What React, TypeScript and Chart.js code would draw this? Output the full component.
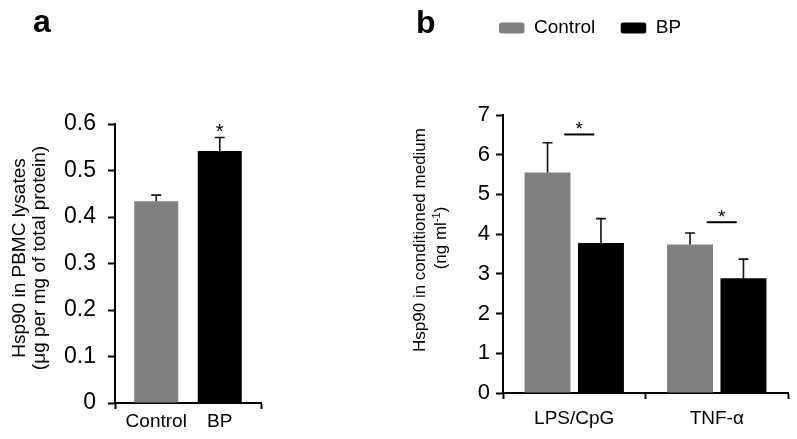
import React, { useEffect, useRef } from 'react';
import { Chart, registerables } from 'chart.js';

Chart.register(...registerables);

const FONT = '"Liberation Sans", Arial, Helvetica, sans-serif';

// ---- shared series ----
const seriesNames = ['Control', 'BP'];
const seriesColors = ['#808080', '#000000'];

// ---- panel a ----
const aCategory = [''];
const aControl = [0.434];
const aControlErr = [0.013];
const aBP = [0.542];
const aBPErr = [0.029];
const aTickValues = [0, 0.1, 0.2, 0.3, 0.4, 0.5, 0.6];
const aYTitle = ['Hsp90 in PBMC lysates', '(μg per mg of total protein)'];
const aStarLevel = 0.591;

// ---- panel b ----
const bCategories = ['LPS/CpG', 'TNF-α'];
const bControl = [5.55, 3.74];
const bControlErr = [0.75, 0.29];
const bBP = [3.78, 2.89];
const bBPErr = [0.61, 0.48];
const bTickValues = [0, 1, 2, 3, 4, 5, 6, 7];
const bYTitle = ['Hsp90 in conditioned medium', '(ng ml', '-1', ')'];
const bSigLevels = [6.51, 4.3];

function errorBarPlugin(errors: number[][]) {
  return {
    id: 'errorBars',
    afterDatasetsDraw(chart: any) {
      const ctx = chart.ctx;
      const ys = chart.scales.y;
      chart.data.datasets.forEach((ds: any, di: number) => {
        const meta = chart.getDatasetMeta(di);
        meta.data.forEach((bar: any, i: number) => {
          const v = ds.data[i];
          const e = errors[di][i];
          if (v == null || e == null) return;
          const x = bar.x;
          const y0 = ys.getPixelForValue(v);
          const y1 = ys.getPixelForValue(v + e);
          ctx.save();
          ctx.strokeStyle = '#111';
          ctx.lineWidth = 1.6;
          ctx.beginPath();
          ctx.moveTo(x, y0);
          ctx.lineTo(x, y1);
          ctx.moveTo(x - 5, y1);
          ctx.lineTo(x + 5, y1);
          ctx.stroke();
          ctx.restore();
        });
      });
    },
  };
}

function drawStar(ctx: CanvasRenderingContext2D, x: number, cy: number, size: number) {
  ctx.save();
  ctx.font = `${size}px ${FONT}`;
  ctx.fillStyle = '#000';
  ctx.textAlign = 'center';
  ctx.textBaseline = 'alphabetic';
  const m = ctx.measureText('*');
  const asc = m.actualBoundingBoxAscent;
  const desc = m.actualBoundingBoxDescent;
  ctx.fillText('*', x, cy + (asc - desc) / 2);
  ctx.restore();
}

function drawRotatedLine(ctx: CanvasRenderingContext2D, text: string, baseX: number, cy: number, size: number) {
  ctx.save();
  ctx.translate(baseX, cy);
  ctx.rotate(-Math.PI / 2);
  ctx.font = `${size}px ${FONT}`;
  ctx.fillStyle = '#000';
  ctx.textAlign = 'center';
  ctx.textBaseline = 'alphabetic';
  ctx.fillText(text, 0, 0);
  ctx.restore();
}

function baseOptions(yMin: number, yMax: number, ticksList: number[], tickFont: number, tickPad: number, yWidth: number, xHeight: number, padding: any, catPct: number, barPct: number, showXTicks: boolean) {
  return {
    responsive: false,
    animation: false,
    devicePixelRatio: 1,
    layout: { padding },
    datasets: { bar: { categoryPercentage: catPct, barPercentage: barPct } },
    plugins: { legend: { display: false }, tooltip: { enabled: false } },
    scales: {
      x: {
        type: 'category',
        offset: true,
        grid: {
          display: true,
          offset: true,
          drawOnChartArea: false,
          drawTicks: true,
          tickLength: 6,
          tickWidth: 2,
          tickColor: '#000',
        },
        border: { display: true, color: '#000', width: 2 },
        ticks: {
          display: showXTicks,
          color: '#000',
          font: { family: FONT, size: 19 },
          padding: 8,
          maxRotation: 0,
        },
        afterFit: (s: any) => {
          s.height = xHeight;
        },
      },
      y: {
        type: 'linear',
        min: yMin,
        max: yMax,
        afterBuildTicks: (s: any) => {
          s.ticks = ticksList.map((v) => ({ value: v }));
        },
        grid: {
          display: true,
          drawOnChartArea: false,
          drawTicks: true,
          tickLength: 7,
          tickWidth: 2,
          tickColor: '#000',
        },
        border: { display: true, color: '#000', width: 2 },
        ticks: {
          color: '#000',
          font: { family: FONT, size: tickFont },
          padding: tickPad,
          callback: (v: any) => String(Number(Number(v).toFixed(1))),
        },
        afterFit: (s: any) => {
          s.width = yWidth;
        },
      },
    },
  };
}

export default function App() {
  const refA = useRef<HTMLCanvasElement>(null);
  const refB = useRef<HTMLCanvasElement>(null);

  useEffect(() => {
    const annotA = {
      id: 'annotA',
      afterDraw(chart: any) {
        const ctx = chart.ctx;
        const ys = chart.scales.y;
        // panel letter
        ctx.save();
        ctx.font = `bold 32px ${FONT}`;
        ctx.fillStyle = '#000';
        ctx.textBaseline = 'alphabetic';
        ctx.textAlign = 'left';
        ctx.fillText('a', 33, 32);
        ctx.restore();
        // category labels under each bar
        ctx.save();
        ctx.font = `19px ${FONT}`;
        ctx.fillStyle = '#000';
        ctx.textAlign = 'center';
        ctx.textBaseline = 'middle';
        seriesNames.forEach((name, di) => {
          const bar = chart.getDatasetMeta(di).data[0];
          ctx.fillText(name, bar.x, chart.chartArea.bottom + 19);
        });
        ctx.restore();
        // star above BP
        const bpBar = chart.getDatasetMeta(1).data[0];
        drawStar(ctx, bpBar.x, ys.getPixelForValue(aStarLevel), 20);
        // y title
        drawRotatedLine(ctx, aYTitle[0], 25, 258, 19);
        drawRotatedLine(ctx, aYTitle[1], 45, 258, 19);
      },
    };

    const chartA = new Chart(refA.current as HTMLCanvasElement, {
      type: 'bar',
      data: {
        labels: aCategory,
        datasets: [
          { label: seriesNames[0], data: aControl, backgroundColor: seriesColors[0] },
          { label: seriesNames[1], data: aBP, backgroundColor: seriesColors[1] },
        ],
      },
      options: baseOptions(0, 0.6, aTickValues, 23, 12, 115, 36, { left: 0, top: 124, right: 139, bottom: 0 }, 0.87, 0.693, false) as any,
      plugins: [errorBarPlugin([aControlErr, aBPErr]), annotA],
    });

    const annotB = {
      id: 'annotB',
      afterDraw(chart: any) {
        const ctx = chart.ctx;
        const ys = chart.scales.y;
        const xs = chart.scales.x;
        // panel letter
        ctx.save();
        ctx.font = `bold 32px ${FONT}`;
        ctx.fillStyle = '#000';
        ctx.textBaseline = 'alphabetic';
        ctx.textAlign = 'left';
        ctx.fillText('b', 16, 33);
        ctx.restore();
        // legend
        ctx.save();
        ctx.font = `19px ${FONT}`;
        ctx.textBaseline = 'middle';
        ctx.textAlign = 'left';
        let lx = 99;
        const ly = 28;
        seriesNames.forEach((name, i) => {
          ctx.fillStyle = seriesColors[i];
          ctx.beginPath();
          (ctx as any).roundRect(lx, ly - 5.5, 25.5, 11, 2.5);
          ctx.fill();
          ctx.fillStyle = '#000';
          ctx.fillText(name, lx + 35, ly);
          lx += 35 + ctx.measureText(name).width + 25.5;
        });
        ctx.restore();
        // significance bars
        bSigLevels.forEach((lvl, i) => {
          const cx = xs.getPixelForValue(i) + 5;
          const y = ys.getPixelForValue(lvl);
          ctx.save();
          ctx.strokeStyle = '#000';
          ctx.lineWidth = 2;
          ctx.beginPath();
          ctx.moveTo(cx - 15, y);
          ctx.lineTo(cx + 15, y);
          ctx.stroke();
          ctx.restore();
          drawStar(ctx, cx, y - 8.5, 19);
        });
        // y title
        drawRotatedLine(ctx, bYTitle[0], 25, 240, 17);
        // second line with superscript
        ctx.save();
        ctx.translate(46, 238);
        ctx.rotate(-Math.PI / 2);
        ctx.fillStyle = '#000';
        ctx.textBaseline = 'alphabetic';
        ctx.textAlign = 'left';
        const f = `17px ${FONT}`;
        const fs = `11px ${FONT}`;
        ctx.font = f;
        const w1 = ctx.measureText(bYTitle[1]).width;
        const w3 = ctx.measureText(bYTitle[3]).width;
        ctx.font = fs;
        const w2 = ctx.measureText(bYTitle[2]).width;
        let tx = -(w1 + w2 + w3) / 2;
        ctx.font = f;
        ctx.fillText(bYTitle[1], tx, 0);
        tx += w1;
        ctx.font = fs;
        ctx.fillText(bYTitle[2], tx, -6);
        tx += w2;
        ctx.font = f;
        ctx.fillText(bYTitle[3], tx, 0);
        ctx.restore();
      },
    };

    const chartB = new Chart(refB.current as HTMLCanvasElement, {
      type: 'bar',
      data: {
        labels: bCategories,
        datasets: [
          { label: seriesNames[0], data: bControl, backgroundColor: seriesColors[0] },
          { label: seriesNames[1], data: bBP, backgroundColor: seriesColors[1] },
        ],
      },
      options: baseOptions(0, 7, bTickValues, 22, 6, 103, 46, { left: 0, top: 115, right: 9, bottom: 0 }, 0.75, 0.86, true) as any,
      plugins: [errorBarPlugin([bControlErr, bBPErr]), annotB],
    });

    return () => {
      chartA.destroy();
      chartB.destroy();
    };
  }, []);

  return (
    <div style={{ position: 'fixed', left: 0, top: 0, width: 797, height: 439, background: '#fff' }}>
      <canvas ref={refA} width={400} height={439} style={{ position: 'absolute', left: 0, top: 0, width: 400, height: 439 }} />
      <canvas ref={refB} width={397} height={439} style={{ position: 'absolute', left: 400, top: 0, width: 397, height: 439 }} />
    </div>
  );
}
